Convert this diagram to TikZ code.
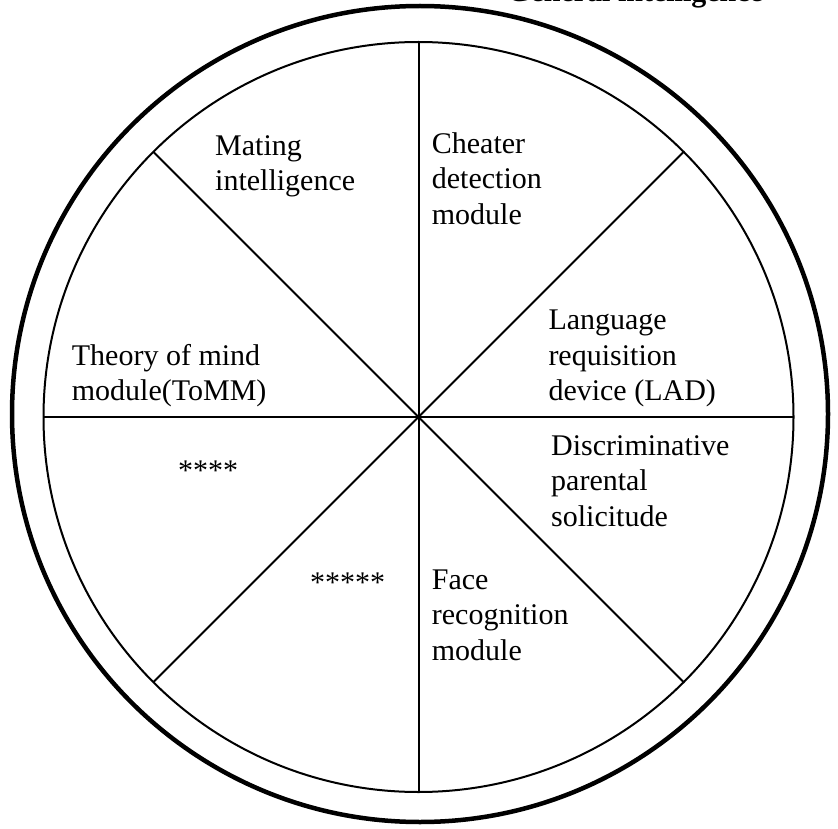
\documentclass[tikz,border=0pt]{standalone}
\usepackage{fontspec}
\setmainfont{Liberation Serif}
\usetikzlibrary{calc}
\begin{document}
\begin{tikzpicture}[x=1pt,y=-1pt,
  lbl/.style={anchor=base west,align=left,inner sep=0pt,font=\fontsize{30}{35.5}\selectfont},
  spoke/.style={line width=2pt},
]
\useasboundingbox (0,0) rectangle (838,829);
\begin{scope}
\clip (0,0) rectangle (838,829);
\node[lbl,font=\fontsize{30}{35.5}\selectfont\bfseries] (title) at (507,1.5) {General intelligence};
\end{scope}
\draw[line width=4.5pt] (420,414) circle[radius=408pt];
\coordinate (c) at (418.5,417);
\draw[line width=2pt] (c) circle[radius=375pt];
\foreach \a [count=\i] in {0,45,...,315}{
  \coordinate (p\i) at ($(c)+(\a:375pt)$);
}
\foreach \i in {1,...,8}{ \draw[spoke] (c) -- (p\i); }
\node[lbl] (mating) at (215,190.7) {Mating\\intelligence};
\node[lbl] (cheater) at (431.7,224.5) {Cheater\\detection\\module};
\node[lbl] (lad) at (548.3,400.5) {Language\\requisition\\device (LAD)};
\node[lbl] (tomm) at (71.7,400.7) {Theory of mind\\module(ToMM)};
\node[lbl] (dps) at (551,526) {Discriminative\\parental\\solicitude};
\node[lbl] (s4) at (178,480) {****};
\node[lbl] (s5) at (310,592) {*****};
\node[lbl] (face) at (431.7,660) {Face\\recognition\\module};
\end{tikzpicture}
\end{document}
